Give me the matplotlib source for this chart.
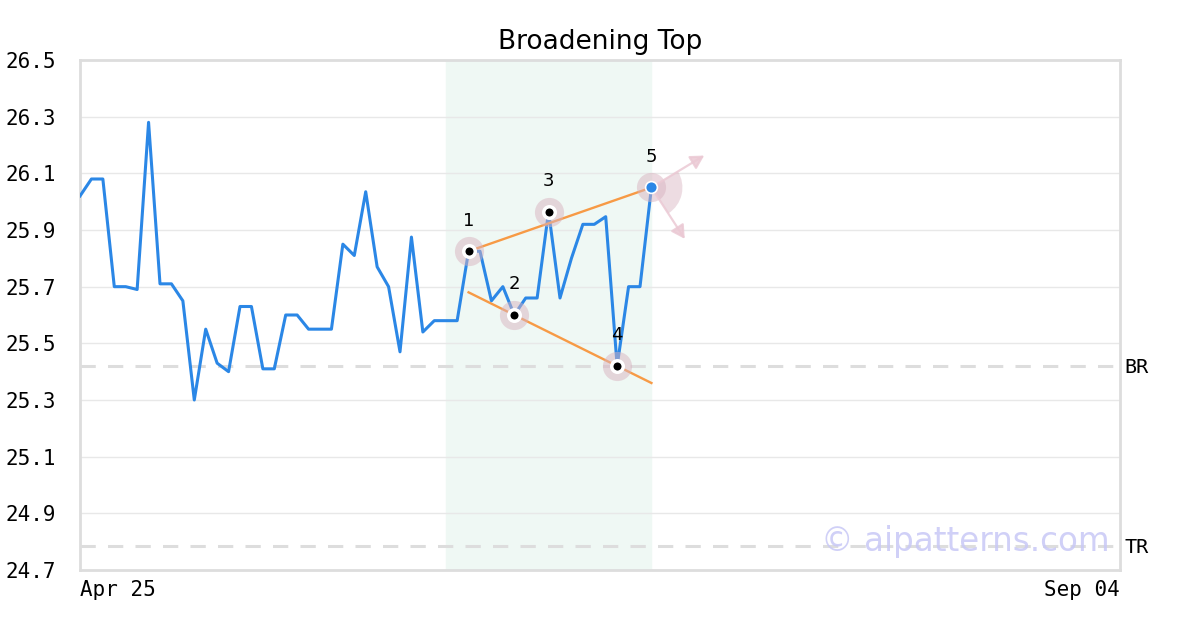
import matplotlib
matplotlib.use("Agg")
import matplotlib.pyplot as plt
from matplotlib.patches import Wedge
from matplotlib.transforms import ScaledTranslation

# closing prices, one per trading day starting Apr 25
prices = [26.02, 26.08, 26.08, 25.70, 25.70, 25.69, 26.28, 25.71, 25.71, 25.65,
          25.30, 25.55, 25.43, 25.40, 25.63, 25.63, 25.41, 25.41, 25.60, 25.60,
          25.55, 25.55, 25.55, 25.85, 25.81, 26.035, 25.77, 25.70, 25.47, 25.875,
          25.54, 25.58, 25.58, 25.58, 25.825, 25.825, 25.65, 25.70, 25.60, 25.66,
          25.66, 25.965, 25.66, 25.80, 25.92, 25.92, 25.947, 25.42, 25.70, 25.70,
          26.05]
n_days = 91                      # Apr 25 .. Sep 04 in trading days
x_labels = ["Apr 25", "Sep 04"]

pivot_idx = [34, 38, 41, 47, 50]
pivot_labels = ["1", "2", "3", "4", "5"]
pattern_span = (32, 50)

upper_line = ([34, 50], [25.825, 26.05])
lower_line = ([34, 50], [25.68, 25.36])

levels = {"BR": 25.42, "TR": 24.785}

y_min, y_max = 24.7, 26.5
y_ticks = [24.7, 24.9, 25.1, 25.3, 25.5, 25.7, 25.9, 26.1, 26.3, 26.5]

blue = "#2b87e6"
orange = "#f79a45"
halo = "#d9b3c0"
mono = "DejaVu Sans Mono"

fig = plt.figure(figsize=(12, 6.3), dpi=100)
ax = fig.add_axes([80 / 1200, 60 / 630, 1040 / 1200, 510 / 630])

ax.axvspan(pattern_span[0], pattern_span[1], color="#eff8f4", zorder=0)

for name, lvl in levels.items():
    ax.axhline(lvl, color="#dddddd", lw=2.2, ls=(0, (5, 4)), zorder=1)
    ax.text(1.004, lvl, name, transform=ax.get_yaxis_transform(),
            ha="left", va="center_baseline", fontsize=14.5, family=mono)

ax.plot(range(len(prices)), prices, color=blue, lw=2.2, zorder=3)

ax.plot(*upper_line, color=orange, lw=1.7, zorder=4)
ax.plot(*lower_line, color=orange, lw=1.7, zorder=4)

px = pivot_idx
py = [prices[i] for i in pivot_idx]
ax.plot(px, py, "o", ms=21, color=halo, alpha=0.5, mec="none", zorder=5)

# fan between the two breakout arrows at point 5
fan_trans = fig.dpi_scale_trans + ScaledTranslation(px[-1], py[-1], ax.transData)
ax.add_patch(Wedge((0, 0), 0.31, -57, 31.6, transform=fan_trans,
                   color=halo, alpha=0.45, lw=0, zorder=5, clip_on=False))

ax.plot(px[:-1], py[:-1], "o", ms=8.3, color="black", mec="white", mew=2.5, zorder=6)
ax.plot(px[-1], py[-1], "o", ms=8.5, color=blue, mec="white", mew=1.2, zorder=6)

for lab, xi, yi in zip(pivot_labels, px, py):
    ax.annotate(lab, (xi, yi), xytext=(0, 22), textcoords="offset points",
                ha="center", va="center", fontsize=13, zorder=7)

for dx, dy in [(38, 23), (24, -37)]:
    ax.annotate("", xy=(px[-1], py[-1]), xytext=(dx, dy), textcoords="offset points",
                arrowprops=dict(arrowstyle="<|-,head_length=0.8,head_width=0.45",
                                color="#ebc9d4", lw=1.6, alpha=0.85,
                                shrinkA=0, shrinkB=0), zorder=5)

ax.text(0.99, 0.055, "\u00a9 aipatterns.com", transform=ax.transAxes,
        ha="right", va="center", fontsize=23.5, color="#c8c8f6", alpha=0.85, zorder=8)

ax.set_xlim(0, n_days)
ax.set_ylim(y_min, y_max)
ax.set_yticks(y_ticks)
ax.set_yticklabels([f"{v:.1f}" for v in y_ticks], family=mono, fontsize=15)
ax.set_xticks([0, n_days])
ax.set_xticklabels(x_labels, family=mono, fontsize=15)
for lab, ha in zip(ax.get_xticklabels(), ["left", "right"]):
    lab.set_ha(ha)
ax.tick_params(axis="y", length=0, pad=17)
ax.tick_params(axis="x", length=0, pad=7)
ax.grid(axis="y", color="#e8e8e8", lw=1)
ax.set_axisbelow(True)
for s in ax.spines.values():
    s.set_color("#dddddd")
    s.set_linewidth(2)

ax.set_title("Broadening Top", fontsize=19, pad=8)

fig.savefig("out.png", dpi=100)
